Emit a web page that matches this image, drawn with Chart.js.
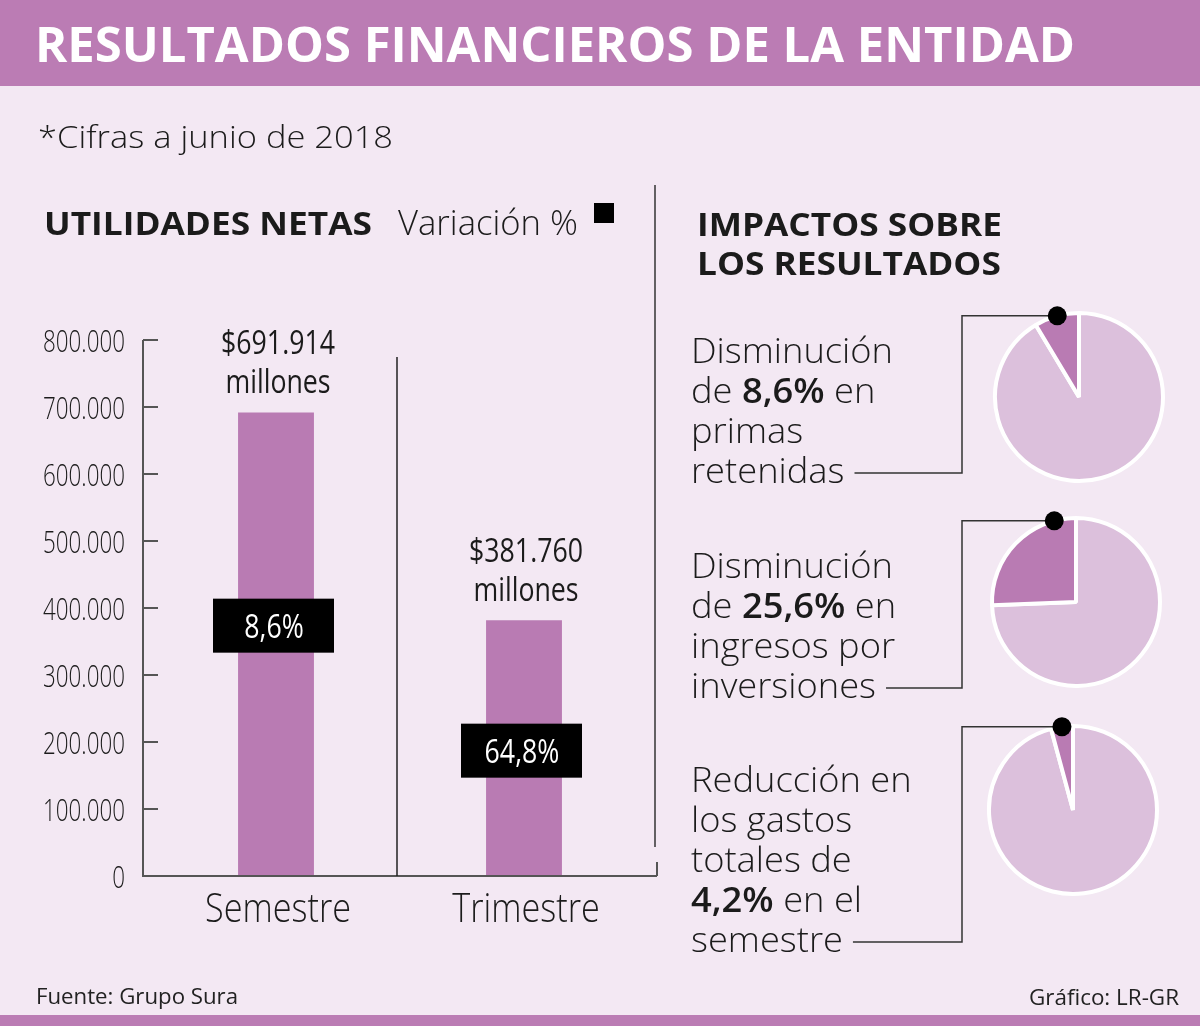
<!DOCTYPE html>
<html>
<head>
<meta charset="utf-8">
<script src="https://cdn.jsdelivr.net/npm/chart.js@4.4.1/dist/chart.umd.min.js"></script>
<style>
  body { margin: 0; width: 1200px; height: 1026px; background: #f3e8f3; position: relative; overflow: hidden; }
  #head { position: absolute; left: 0; top: 0; width: 1200px; height: 86px; background: #bb7cb4; }
  #foot { position: absolute; left: 0; top: 1015px; width: 1200px; height: 11px; background: #bb7cb4; }
  canvas { position: absolute; }
  #bars { left: 0; top: 300px; }
  #pie0 { left: 991px; top: 309px; }
  #pie1 { left: 988px; top: 514px; }
  #pie2 { left: 985px; top: 722px; }
  #overlay { left: 0; top: 0; z-index: 5; pointer-events: none; }
</style>
</head>
<body>
<div id="head"></div>
<div id="foot"></div>
<canvas id="bars" width="660" height="640"></canvas>
<canvas id="pie0" width="176" height="176"></canvas>
<canvas id="pie1" width="176" height="176"></canvas>
<canvas id="pie2" width="176" height="176"></canvas>
<canvas id="overlay" width="1200" height="1026"></canvas>
<script>
// datos
const categories = ['Semestre', 'Trimestre'];
const utilidades = [691914, 381760];           // millones de pesos
const variacion = [8.6, 64.8];                 // variación %
const yTicks = [0, 100000, 200000, 300000, 400000, 500000, 600000, 700000, 800000];
const yTickLabels = ['0', '100.000', '200.000', '300.000', '400.000', '500.000', '600.000', '700.000', '800.000'];
const impactos = [8.6, 25.6, 4.2];             // % de disminución

const barColor = '#b97bb3';
const lightPie = '#dcc0dc';
const ink = '#1b1b1b';
const FONT = "'Open Sans', 'DejaVu Sans', sans-serif";

const miles = (n) => String(n).replace(/\B(?=(\d{3})+(?!\d))/g, '.');
const pct = (n) => String(n).replace('.', ',') + '%';

// texto con escala horizontal (la fuente original es condensada)
function drawText(ctx, s, x, y, font, color, align, sx) {
  ctx.save();
  ctx.font = font;
  ctx.fillStyle = color;
  ctx.textAlign = align || 'left';
  ctx.textBaseline = 'alphabetic';
  ctx.translate(x, y);
  ctx.scale(sx || 1, 1);
  ctx.fillText(s, 0, 0);
  ctx.restore();
  ctx.font = font;
  return ctx.measureText(s).width * (sx || 1);
}
function fitScale(ctx, s, font, w) {
  ctx.font = font;
  return w / ctx.measureText(s).width;
}

// plugin que dibuja ejes, etiquetas y cajas de variación
const boxFrac = [0.54, 0.49];
const axisGap = 9;
const barDecor = {
  id: 'barDecor',
  afterDraw(chart) {
    const { ctx, chartArea: a, scales: { x, y } } = chart;
    const meta = chart.getDatasetMeta(0);
    const left = a.left - axisGap, right = a.right + axisGap;

    ctx.save();
    ctx.strokeStyle = '#555';
    ctx.lineWidth = 2;
    ctx.beginPath();
    ctx.moveTo(left, a.top);
    ctx.lineTo(left, a.bottom);
    ctx.lineTo(right, a.bottom);
    ctx.moveTo(right, a.bottom - 14);
    ctx.lineTo(right, a.bottom);
    ctx.stroke();

    const tf = '300 32px ' + FONT;
    const tsx = fitScale(ctx, '800.000', tf, 82);
    yTicks.forEach((v, i) => {
      const py = y.getPixelForValue(v);
      ctx.beginPath();
      ctx.moveTo(left, py);
      ctx.lineTo(left + 15, py);
      ctx.stroke();
      drawText(ctx, yTickLabels[i], left - 18, py + 11.5, tf, ink, 'right', tsx);
    });

    // separador entre categorías
    ctx.strokeStyle = '#222';
    ctx.lineWidth = 1.5;
    ctx.beginPath();
    const mid = (left + right) / 2 - 3;
    ctx.moveTo(mid, a.top + 17);
    ctx.lineTo(mid, a.bottom);
    ctx.stroke();

    const vf = '400 32px ' + FONT;
    const vsx = fitScale(ctx, '$691.914', vf, 114);
    const cf = '300 40px ' + FONT;
    const csx = fitScale(ctx, 'Semestre', cf, 146);
    meta.data.forEach((bar, i) => {
      drawText(ctx, '$' + miles(utilidades[i]), bar.x + 2, bar.y - 58, vf, ink, 'center', vsx);
      drawText(ctx, 'millones', bar.x + 2, bar.y - 19, vf, ink, 'center', vsx);

      const cy = y.getPixelForValue(utilidades[i] * boxFrac[i]);
      ctx.fillStyle = '#000';
      ctx.fillRect(bar.x - 63, cy - 27, 121, 54);
      drawText(ctx, pct(variacion[i]), bar.x - 2, cy + 12, vf, '#fff', 'center', vsx);

      drawText(ctx, categories[i], x.getPixelForValue(i) + 2, a.bottom + 46, cf, ink, 'center', csx);
    });
    ctx.restore();
  }
};

const barChart = new Chart(document.getElementById('bars'), {
  type: 'bar',
  data: {
    labels: categories,
    datasets: [{
      data: utilidades,
      backgroundColor: barColor,
      borderWidth: 0,
      barPercentage: 0.306,
      categoryPercentage: 1
    }]
  },
  options: {
    responsive: false,
    animation: false,
    events: [],
    layout: { padding: { left: 143 + axisGap, top: 40, right: 3 + axisGap, bottom: 64 } },
    scales: {
      x: { display: false },
      y: { display: false, min: 0, max: 800000 }
    },
    plugins: { legend: { display: false }, tooltip: { enabled: false } }
  },
  plugins: [barDecor]
});

// tortas
const pies = impactos.map((p, i) => new Chart(document.getElementById('pie' + i), {
  type: 'pie',
  data: {
    labels: ['Resto', 'Impacto'],
    datasets: [{
      data: [100 - p, p],
      backgroundColor: [lightPie, barColor],
      borderColor: '#ffffff',
      borderWidth: 4
    }]
  },
  options: {
    responsive: false,
    animation: false,
    events: [],
    layout: { padding: 2 },
    plugins: { legend: { display: false }, tooltip: { enabled: false } }
  }
}));

// textos fijos, conectores y puntos
const ov = document.getElementById('overlay').getContext('2d');

const titleFont = '700 49px ' + FONT;
drawText(ov, 'RESULTADOS FINANCIEROS DE LA ENTIDAD', 35, 62, titleFont, '#fff', 'left',
  fitScale(ov, 'RESULTADOS FINANCIEROS DE LA ENTIDAD', titleFont, 1040));

const subFont = '300 32px ' + FONT;
drawText(ov, '*Cifras a junio de 2018', 38, 148, subFont, ink, 'left',
  fitScale(ov, '*Cifras a junio de 2018', subFont, 355));

const hFont = '700 32px ' + FONT;
drawText(ov, 'UTILIDADES NETAS', 44, 235, hFont, ink, 'left', fitScale(ov, 'UTILIDADES NETAS', hFont, 328));
const vFont = '300 34px ' + FONT;
drawText(ov, 'Variación %', 398, 235, vFont, ink, 'left', fitScale(ov, 'Variación %', vFont, 180));
ov.fillStyle = '#000';
ov.fillRect(594, 203, 20, 20);

const rhFont = '700 33px ' + FONT;
const rhs = fitScale(ov, 'IMPACTOS SOBRE', rhFont, 305);
drawText(ov, 'IMPACTOS SOBRE', 697, 236, rhFont, ink, 'left', rhs);
drawText(ov, 'LOS RESULTADOS', 697, 275, rhFont, ink, 'left', rhs);

// divisor vertical
ov.strokeStyle = '#333';
ov.lineWidth = 1.5;
ov.beginPath();
ov.moveTo(655, 185);
ov.lineTo(655, 847);
ov.stroke();

const impactLines = [
  ['Disminución', 'de *' + pct(impactos[0]) + '* en', 'primas', 'retenidas'],
  ['Disminución', 'de *' + pct(impactos[1]) + '* en', 'ingresos por', 'inversiones'],
  ['Reducción en', 'los gastos', 'totales de', '*' + pct(impactos[2]) + '* en el', 'semestre']
];
const firstBaseline = [363, 578, 792];
const txtFont = '300 35px ' + FONT;
const boldFont = '600 35px ' + FONT;
const rsx = fitScale(ov, 'Disminución', txtFont, 202);

impactLines.forEach((lines, k) => {
  let endX = 0, lastY = 0;
  lines.forEach((line, j) => {
    const by = firstBaseline[k] + j * 40;
    let px = 691;
    line.split('*').forEach((seg, s) => {
      if (!seg) return;
      px += drawText(ov, seg, px, by, s % 2 ? boldFont : txtFont, ink, 'left', rsx);
    });
    endX = px; lastY = by;
  });

  // punto sobre la porción y línea hasta el texto
  const chart = pies[k];
  const arc = chart.getDatasetMeta(0).data[1];
  const cv = chart.canvas;
  const half = Math.min((arc.endAngle - arc.startAngle) / 2, 15 * Math.PI / 180);
  const ang = arc.endAngle - half;
  const dx = cv.offsetLeft + arc.x + arc.outerRadius * Math.cos(ang);
  const dy = cv.offsetTop + arc.y + arc.outerRadius * Math.sin(ang);

  ov.strokeStyle = '#333';
  ov.lineWidth = 1.5;
  ov.beginPath();
  ov.moveTo(dx, dy);
  ov.lineTo(962, dy);
  ov.lineTo(962, lastY - 10);
  ov.lineTo(endX + 10, lastY - 10);
  ov.stroke();

  ov.fillStyle = '#000';
  ov.beginPath();
  ov.arc(dx, dy, 9.5, 0, Math.PI * 2);
  ov.fill();
});

const fFont = '400 22px ' + FONT;
drawText(ov, 'Fuente: Grupo Sura', 36, 1004, fFont, '#222', 'left', fitScale(ov, 'Fuente: Grupo Sura', fFont, 202));
drawText(ov, 'Gráfico: LR-GR', 1179, 1005, fFont, '#222', 'right', fitScale(ov, 'Gráfico: LR-GR', fFont, 150));
</script>
</body>
</html>
